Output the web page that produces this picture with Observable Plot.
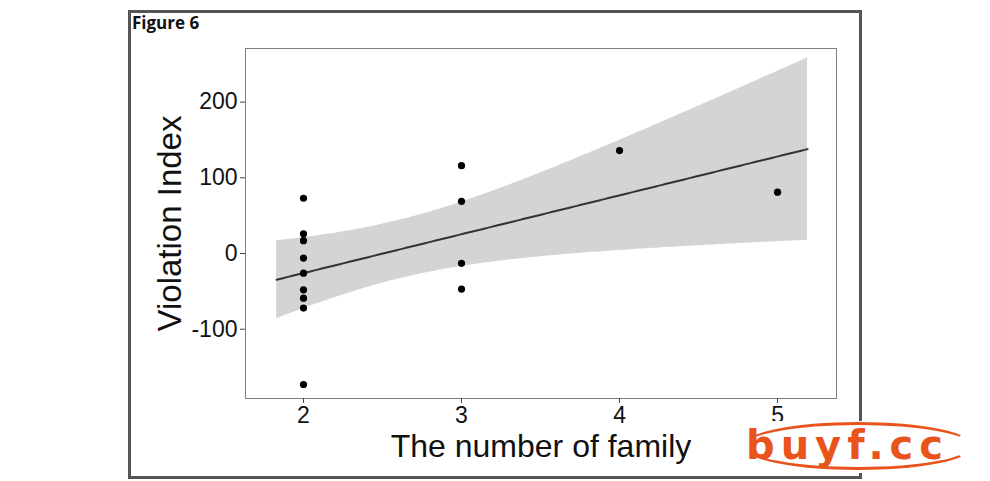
<!DOCTYPE html>
<html>
<head>
<meta charset="utf-8">
<script src="https://cdn.jsdelivr.net/npm/d3@7"></script>
<script src="https://cdn.jsdelivr.net/npm/@observablehq/plot@0.6"></script>
<style>
  html, body { margin: 0; padding: 0; background: #fff; }
  #wrap { position: relative; width: 990px; height: 481px; overflow: hidden; }
  #border { position: absolute; left: 128px; top: 10px; width: 734px; height: 469px; box-sizing: border-box; border: 3px solid #555; pointer-events: none; }
  #title { position: absolute; left: 132px; top: 11px; font: bold 17px "Open Sans", "Noto Sans", sans-serif; color: #111; }
  #wm { position: absolute; left: 738px; top: 421px; width: 242px; height: 52px; background: #fff; }
  #wm .ring { position: absolute; left: 4px; top: 1px; width: 232px; height: 48px; border: 3px solid #e9541c; border-radius: 50%; box-sizing: border-box; border-left-color: transparent; border-right-color: transparent; }
  #wm .txt { position: absolute; left: 8px; top: 1px; font: bold 40px "DejaVu Sans", sans-serif; color: #e9541c; letter-spacing: 6px; }
</style>
</head>
<body>
<div id="wrap">
  <div id="chart"></div>
  <div id="border"></div>
  <div id="title">Figure 6</div>
  <div id="wm"><div class="ring"></div><div class="txt">buyf.cc</div></div>
</div>
<script>
// Data
const familyCount = [2, 2, 2, 2, 2, 2, 2, 2, 2, 3, 3, 3, 3, 4, 5];
const violationIndex = [73, 26, 17, -6, -26, -48, -59, -72, -173, 116, 69, -13, -47, 136, 81];
const xTicks = [2, 3, 4, 5];
const yTicks = [-100, 0, 100, 200];
const xLabel = "The number of family";
const yLabel = "Violation Index";

const points = familyCount.map((x, i) => ({x, y: violationIndex[i]}));

// Linear regression with 95% confidence band (computed from the data)
const n = points.length;
const xbar = d3.mean(points, d => d.x);
const ybar = d3.mean(points, d => d.y);
const sxx = d3.sum(points, d => (d.x - xbar) ** 2);
const sxy = d3.sum(points, d => (d.x - xbar) * (d.y - ybar));
const slope = sxy / sxx;
const intercept = ybar - slope * xbar;
const sse = d3.sum(points, d => (d.y - (intercept + slope * d.x)) ** 2);
const s = Math.sqrt(sse / (n - 2));
const tCrit = 2.1604; // t(0.975, df = 13)
const fitRange = [1.83, 5.2];
const band = d3.range(fitRange[0], fitRange[1] + 1e-9, 0.02).map(x => {
  const fit = intercept + slope * x;
  const se = s * Math.sqrt(1 / n + (x - xbar) ** 2 / sxx);
  return {x, fit, lo: fit - tCrit * se, hi: fit + tCrit * se};
});

const chart = Plot.plot({
  width: 990,
  height: 481,
  marginLeft: 245,
  marginRight: 154,
  marginTop: 48,
  marginBottom: 83,
  style: {fontFamily: "'Liberation Sans', Arial, sans-serif", background: "transparent", overflow: "visible"},
  x: {domain: [1.633, 5.373]},
  y: {domain: [-191.5, 270.8]},
  marks: [
    Plot.areaY(band, {x: "x", y1: "lo", y2: "hi", fill: "#d4d4d4"}),
    Plot.line(band, {x: "x", y: "fit", stroke: "#333", strokeWidth: 2}),
    Plot.dot(points, {x: "x", y: "y", r: 3.6, fill: "black", stroke: "none"}),
    Plot.frame({stroke: "#7f7f7f", strokeWidth: 1}),
    Plot.axisX({ticks: xTicks, tickSize: 5, tickPadding: 3, fontSize: 23, label: null, stroke: "#444", color: "#111", tickFormat: d => String(d)}),
    Plot.axisY({ticks: yTicks, tickSize: 5, tickPadding: 3, fontSize: 23, label: null, stroke: "#444", color: "#111", tickFormat: d => String(d)}),
    Plot.text([xLabel], {frameAnchor: "bottom", lineAnchor: "middle", textAnchor: "middle", dy: 48, fontSize: 32, fill: "#111", text: d => d}),
    Plot.text([yLabel], {frameAnchor: "left", textAnchor: "middle", lineAnchor: "middle", dx: -75, rotate: -90, fontSize: 33, fill: "#111", text: d => d})
  ]
});
document.getElementById("chart").appendChild(chart);
</script>
</body>
</html>
